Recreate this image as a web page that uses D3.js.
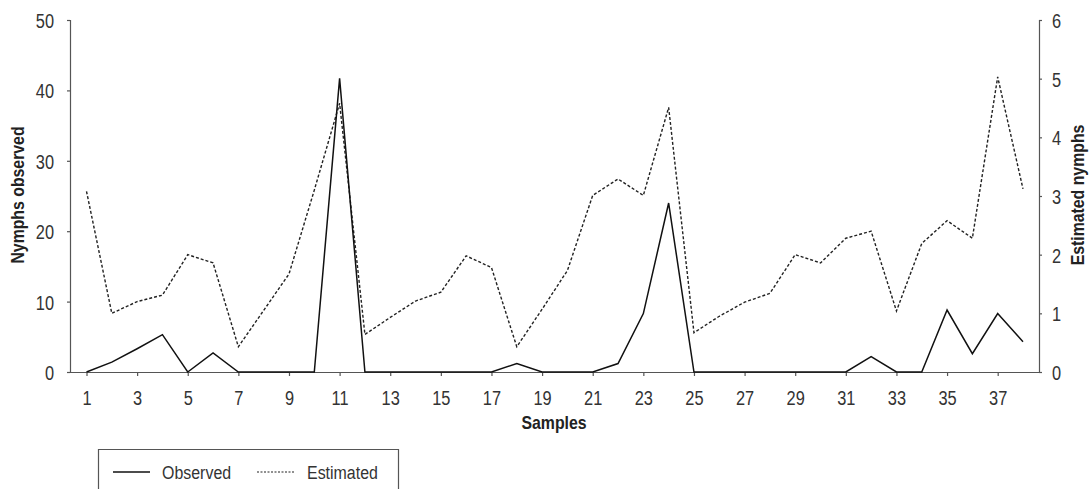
<!DOCTYPE html>
<html>
<head>
<meta charset="utf-8">
<script src="https://cdn.jsdelivr.net/npm/d3@7"></script>
<style>
  html, body { margin: 0; padding: 0; background: #fff; }
  svg { display: block; }
</style>
</head>
<body>
<svg id="chart" width="1091" height="489"></svg>
<script>
const samples = d3.range(1, 39);
const observed = [0, 1.4, 3.3, 5.3, 0, 2.7, 0, 0, 0, 0,
                  41.7, 0, 0, 0, 0, 0, 0, 1.2, 0, 0,
                  0, 1.2, 8.3, 24.0, 0, 0, 0, 0, 0, 0,
                  0, 2.2, 0, 0, 8.8, 2.6, 8.3, 4.3];
const estimated = [3.08, 1.0, 1.2, 1.31, 2.0, 1.86, 0.43, 1.05, 1.67, 3.1,
                   4.58, 0.64, 0.93, 1.21, 1.36, 1.98, 1.78, 0.43, 1.07, 1.73,
                   3.01, 3.29, 3.01, 4.51, 0.67, 0.95, 1.19, 1.34, 2.0, 1.86,
                   2.28, 2.40, 1.04, 2.19, 2.58, 2.28, 5.03, 3.12];
const leftTicks = [0, 10, 20, 30, 40, 50];
const rightTicks = [0, 1, 2, 3, 4, 5, 6];
const xTicks = samples.filter(d => d % 2 === 1);

const svg = d3.select("#chart");
const font = '"Liberation Sans", Arial, sans-serif';
const axisColor = "#555";
const TS = 0.78;   // condensed factor for tick labels
const LS = 0.84;   // legend text
const BS = 0.88;   // bold titles

const x = d3.scaleLinear().domain([1, 38]).range([86.5, 1023]);
const yL = d3.scaleLinear().domain([0, 50]).range([372, 20]);
const yR = d3.scaleLinear().domain([0, 6]).range([372, 20]);

function styleTicks(g) {
  g.selectAll(".tick text").attr("font-size", 21).attr("fill", "#333")
    .attr("font-family", font);
}

// Axes
const gx = svg.append("g").attr("transform", "translate(0,372)")
  .call(d3.axisBottom(x).tickValues(xTicks).tickSize(4).tickPadding(4).tickFormat(d3.format("d")));
gx.select(".domain").attr("d", "M67.5,0.5H1041.5");
styleTicks(gx);
gx.selectAll(".tick text").attr("dy", null).attr("y", 0)
  .attr("transform", `translate(0,33) scale(${TS},1)`);

const gl = svg.append("g").attr("transform", "translate(70,0)")
  .call(d3.axisLeft(yL).tickValues(leftTicks).tickSize(3).tickFormat(d3.format("d")));
styleTicks(gl);
gl.select(".domain").attr("d", "M-3,20.5H0.5V372.5");
gl.selectAll(".tick text").attr("x", 0).attr("dy", null).attr("y", 0)
  .attr("transform", `translate(-16,7.5) scale(${TS},1)`);

const gr = svg.append("g").attr("transform", "translate(1039,0)")
  .call(d3.axisRight(yR).tickValues(rightTicks).tickSize(3).tickFormat(d3.format("d")));
styleTicks(gr);
gr.select(".domain").attr("d", "M3,20.5H0.5V372.5");
gr.selectAll(".tick text").attr("x", 0).attr("dy", null).attr("y", 0)
  .attr("transform", `translate(13,7.5) scale(${TS},1)`);

svg.selectAll(".domain, .tick line").attr("stroke", axisColor).attr("stroke-width", 1.2);

// Lines
const lineObs = d3.line().x((d, i) => x(samples[i])).y(d => yL(d));
const lineEst = d3.line().x((d, i) => x(samples[i])).y(d => yR(d));

svg.append("path").datum(estimated).attr("d", lineEst)
  .attr("fill", "none").attr("stroke", "#222").attr("stroke-width", 1.4)
  .attr("stroke-dasharray", "3,2");
svg.append("path").datum(observed).attr("d", lineObs)
  .attr("fill", "none").attr("stroke", "#111").attr("stroke-width", 1.5)
  .attr("stroke-linejoin", "miter");

// Axis titles
function title(tf, txt) {
  svg.append("text").attr("transform", tf).attr("text-anchor", "middle")
    .attr("font-family", font).attr("font-weight", "bold").attr("font-size", 18)
    .attr("fill", "#222").text(txt);
}
title(`translate(554,429) scale(${BS},1)`, "Samples");
title(`translate(24,195) rotate(-90) scale(${BS},1)`, "Nymphs observed");
title(`translate(1084,195) rotate(-90) scale(${BS},1)`, "Estimated nymphs");

// Legend
const lg = svg.append("g");
lg.append("path").attr("d", "M98.5,495V449.5H398.5V495")
  .attr("fill", "none").attr("stroke", axisColor).attr("stroke-width", 1.2);
lg.append("line").attr("x1", 113).attr("x2", 150).attr("y1", 472).attr("y2", 472)
  .attr("stroke", "#111").attr("stroke-width", 1.5);
lg.append("text").attr("transform", `translate(162,479) scale(${LS},1)`).attr("font-family", font)
  .attr("font-size", 19).attr("fill", "#333").text("Observed");
lg.append("line").attr("x1", 257).attr("x2", 295).attr("y1", 472).attr("y2", 472)
  .attr("stroke", "#222").attr("stroke-width", 1.2).attr("stroke-dasharray", "2,1.5");
lg.append("text").attr("transform", `translate(307,479) scale(${LS},1)`).attr("font-family", font)
  .attr("font-size", 19).attr("fill", "#333").text("Estimated");
</script>
</body>
</html>
